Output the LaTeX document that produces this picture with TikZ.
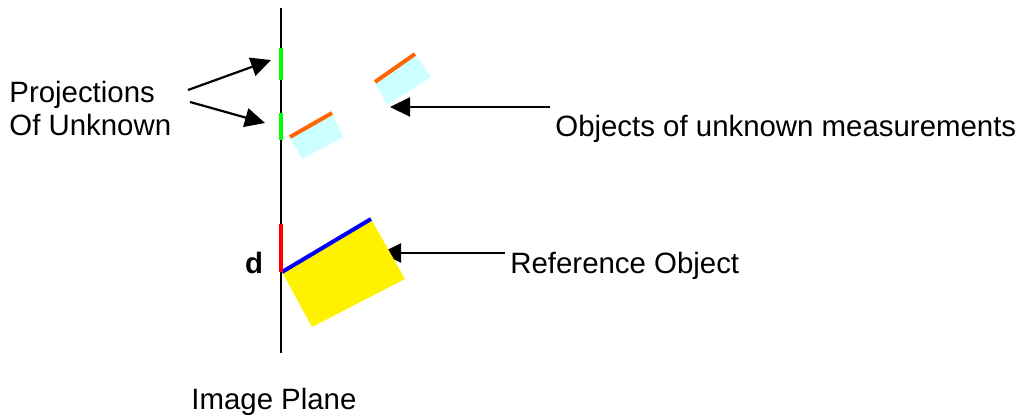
\documentclass[tikz,border=0pt]{standalone}
\usepackage{fontspec}
\setmainfont{Liberation Sans}
\usetikzlibrary{arrows.meta,positioning}
\definecolor{lightcyan}{HTML}{CCFFFF}
\definecolor{projgreen}{HTML}{00FF00}
\definecolor{edgeorange}{HTML}{FF6600}
\tikzstyle{txt}=[inner sep=0pt, font=\fontsize{14.7}{16.5}\selectfont]
\tikzstyle{pointer}=[-{Triangle[length=10pt,width=9.5pt]}, line width=1.1pt]
\tikzstyle{proj}=[projgreen, line width=2pt]
\tikzstyle{edge}=[line width=2pt]

\begin{document}
\begin{tikzpicture}[x=0.5pt, y=-0.5pt]
  \useasboundingbox (0,0) rectangle (1024,417);

  % image plane
  \coordinate (top) at (281,8);
  \coordinate (bot) at (281,353);
  \draw[line width=1pt] (top) -- (bot);
  \node[txt, anchor=base west] (plane) at (191,409) {Image Plane};

  % pointers (reference one runs under the yellow box)
  \coordinate (p1) at (188,90);
  \coordinate (p2) at (190,102);
  \coordinate (t1) at (271,60);
  \coordinate (t2) at (265,123);
  \coordinate (o1) at (550,107);
  \coordinate (o2) at (390,107);
  \coordinate (r1) at (505,253);
  \coordinate (r2) at (381,253);

  \draw[pointer] (p1) -- (t1);
  \draw[pointer] (p2) -- (t2);
  \draw[pointer] (o1) -- (o2);
  \draw[pointer] (r1) -- (r2);

  % unknown objects
  \fill[lightcyan] (290,137) -- (332,113) -- (343,137) -- (302,159) -- cycle;
  \draw[edge, edgeorange] (290,137) -- (332,113);
  \fill[lightcyan] (375,82) -- (415,54) -- (431,77) -- (387,105) -- cycle;
  \draw[edge, edgeorange] (375,82) -- (415,54);

  % their projections
  \draw[proj] (281,48) -- (281,80);
  \draw[proj] (281,113) -- (281,140);

  % reference object
  \fill[yellow] (282,272) -- (371,219) -- (405,279) -- (312,327) -- cycle;
  \draw[edge, blue] (282,272) -- (371,219);
  \draw[line width=1.6pt, red] (281,224) -- (281,272);
  \node[txt, font=\fontsize{14.7}{16.5}\selectfont\bfseries, anchor=base] (d) at (254,273) {d};

  % labels
  \node[txt, anchor=west, align=left] (projlbl) at (9,108) {Projections\\Of Unknown};
  \node[txt, anchor=base west] (objlbl) at (555,137) {Objects of unknown measurements};
  \node[txt, anchor=base west] (reflbl) at (510,273) {Reference Object};
\end{tikzpicture}
\end{document}
